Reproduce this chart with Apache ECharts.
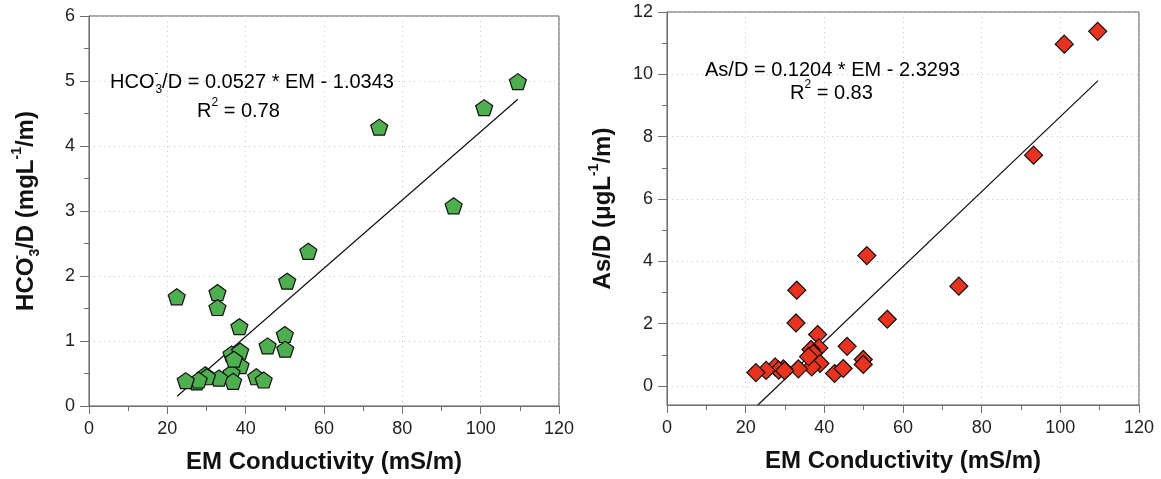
<!DOCTYPE html>
<html>
<head>
<meta charset="utf-8">
<script src="https://cdn.jsdelivr.net/npm/echarts@6/dist/echarts.min.js"></script>
<style>
html,body{margin:0;padding:0;background:#fff;}
#chart{width:1161px;height:479px;}
</style>
</head>
<body>
<div id="chart"></div>
<script>
// ---- data ----
const xTicks = [0, 20, 40, 60, 80, 100, 120];
const yTicksLeft = [0, 1, 2, 3, 4, 5, 6];
const yTicksRight = [0, 2, 4, 6, 8, 10, 12];

// Left panel: EM conductivity (mS/m) vs HCO3-/D
const emLeft  = [22.4, 32.8, 32.8, 38.4, 50.6, 56.0, 74.1, 100.9, 109.5, 93.1, 50.0, 50.1, 45.6, 36.4, 38.6, 38.7, 36.4, 36.8, 33.2, 29.7, 30.1, 27.5, 28.0, 24.7, 42.7, 44.6, 37.0];
const hco3D   = [1.68, 1.745, 1.515, 1.22, 1.92, 2.38, 4.29, 4.59, 4.99, 3.08, 1.10, 0.875, 0.925, 0.80, 0.845, 0.62, 0.51, 0.38, 0.43, 0.48, 0.45, 0.37, 0.40, 0.39, 0.45, 0.40, 0.72];
const fitLeftX = [22.5, 109.5];
const fitLeftY = [0.15, 4.72];

// Right panel: EM conductivity (mS/m) vs As/D
const emRight = [33.0, 32.8, 38.3, 56.0, 45.8, 38.6, 36.6, 36.4, 37.2, 38.9, 36.8, 33.4, 29.6, 27.5, 28.4, 25.2, 22.6, 29.9, 42.6, 44.8, 49.9, 49.9, 50.8, 74.2, 93.2, 101.0, 109.5, 36.0];
const asD     = [3.08, 2.03, 1.66, 2.15, 1.28, 1.23, 1.18, 0.94, 1.05, 0.73, 0.62, 0.56, 0.56, 0.62, 0.52, 0.51, 0.44, 0.50, 0.41, 0.57, 0.86, 0.70, 4.19, 3.21, 7.41, 10.97, 11.38, 0.95];
const fitRightX = [23.1, 109.6];
const fitRightY = [-0.6, 9.8];

// ---- chart ----
const FONT = "'Liberation Sans', Arial, Helvetica, sans-serif";
const AX = '#707070';
const zip = (a, b) => a.map((v, i) => [v, b[i]]);
const pentagon = 'path://M50,0L97.6,34.5L79.4,90.5L20.6,90.5L2.4,34.5Z';

const richName = {
  b:  { fontFamily: FONT, fontSize: 24, fontWeight: 'bold', color: '#111', lineHeight: 32 },
  sp: { fontFamily: FONT, fontSize: 14, fontWeight: 'bold', color: '#111', verticalAlign: 'top', lineHeight: 14 },
  sb: { fontFamily: FONT, fontSize: 14, fontWeight: 'bold', color: '#111', verticalAlign: 'bottom', lineHeight: 14 },
  st: { fontFamily: FONT, fontSize: 14, fontWeight: 'bold', color: '#111', verticalAlign: 'top', lineHeight: 14, width: 1 }
};
const richText = {
  n:  { fontFamily: FONT, fontSize: 20, color: '#111', lineHeight: 28 },
  sp: { fontFamily: FONT, fontSize: 12, color: '#111', verticalAlign: 'top', lineHeight: 12 },
  sb: { fontFamily: FONT, fontSize: 12, color: '#111', verticalAlign: 'bottom', lineHeight: 12 },
  st: { fontFamily: FONT, fontSize: 12, color: '#111', verticalAlign: 'top', lineHeight: 12, width: 1 }
};

function xAxisCfg(gi) {
  return {
    type: 'value', gridIndex: gi, min: xTicks[0], max: xTicks[xTicks.length - 1], interval: xTicks[1] - xTicks[0],
    axisLine: { show: true, onZero: false, lineStyle: { color: AX, width: 1 } },
    axisTick: { show: true, inside: false, length: 8, lineStyle: { color: AX } },
    minorTick: { show: true, splitNumber: 2, length: 5, lineStyle: { color: AX } },
    axisLabel: { fontFamily: FONT, fontSize: 18, color: '#222', margin: 14 },
    splitLine: { show: true, lineStyle: { type: [1, 4], color: '#c8c8c8' } },
    name: 'EM Conductivity (mS/m)', nameLocation: 'middle', nameGap: 44,
    nameTextStyle: { fontFamily: FONT, fontSize: 24, fontWeight: 'bold', color: '#111' }
  };
}

const option = {
  animation: false,
  backgroundColor: '#fff',
  grid: [
    { left: 89, top: 16, width: 470, height: 392, show: true, borderColor: '#555', borderWidth: 1, backgroundColor: 'transparent' },
    { left: 667, top: 12, width: 472, height: 393, show: true, borderColor: '#555', borderWidth: 1, backgroundColor: 'transparent' },
    { left: 667, top: 12, width: 472, height: 374, show: false }
  ],
  xAxis: [
    xAxisCfg(0),
    xAxisCfg(1),
    { type: 'value', gridIndex: 2, min: 0, max: 120, show: false }
  ],
  yAxis: [
    {
      type: 'value', gridIndex: 0, min: yTicksLeft[0], max: yTicksLeft[yTicksLeft.length - 1], interval: 1,
      axisLine: { show: true, onZero: false, lineStyle: { color: AX } },
      axisTick: { show: true, length: 9, lineStyle: { color: AX } },
      minorTick: { show: true, splitNumber: 2, length: 5, lineStyle: { color: AX } },
      axisLabel: { fontFamily: FONT, fontSize: 18, color: '#222', margin: 14 },
      splitLine: { show: true, lineStyle: { type: [1, 4], color: '#c8c8c8' } },
      name: '{b|HCO}{st|-}{sb|3}{b|/D (mgL}{sp|-1}{b|/m)}', nameLocation: 'middle', nameGap: 47,
      nameTextStyle: { fontFamily: FONT, fontSize: 24, fontWeight: 'bold', color: '#111', rich: richName }
    },
    {
      type: 'value', gridIndex: 1, min: -0.6, max: 12,
      axisLine: { show: true, onZero: false, lineStyle: { color: AX } },
      axisTick: { show: false }, minorTick: { show: false }, axisLabel: { show: false }, splitLine: { show: false },
      name: '{b|As/D (μgL}{sp|-1}{b|/m)}', nameLocation: 'middle', nameGap: 48,
      nameTextStyle: { fontFamily: FONT, fontSize: 24, fontWeight: 'bold', color: '#111', rich: richName }
    },
    {
      type: 'value', gridIndex: 2, min: yTicksRight[0], max: yTicksRight[yTicksRight.length - 1], interval: 2,
      axisLine: { show: false },
      axisTick: { show: true, length: 9, lineStyle: { color: AX } },
      minorTick: { show: true, splitNumber: 2, length: 5, lineStyle: { color: AX } },
      axisLabel: { fontFamily: FONT, fontSize: 18, color: '#222', margin: 14 },
      splitLine: { show: true, lineStyle: { type: [1, 4], color: '#c8c8c8' } }
    }
  ],
  series: [
    {
      type: 'line', xAxisIndex: 0, yAxisIndex: 0, data: zip(fitLeftX, fitLeftY),
      showSymbol: false, symbol: 'none', lineStyle: { color: '#111', width: 1.2 }, z: 3
    },
    {
      type: 'scatter', xAxisIndex: 0, yAxisIndex: 0, data: zip(emLeft, hco3D),
      symbol: pentagon, symbolSize: [17, 16],
      itemStyle: { color: '#4fae4f', borderColor: '#111', borderWidth: 1.2, opacity: 1 }, z: 4
    },
    {
      type: 'line', xAxisIndex: 1, yAxisIndex: 1, data: zip(fitRightX, fitRightY),
      showSymbol: false, symbol: 'none', lineStyle: { color: '#111', width: 1.2 }, z: 3
    },
    {
      type: 'scatter', xAxisIndex: 1, yAxisIndex: 1, data: zip(emRight, asD),
      symbol: 'diamond', symbolSize: [18, 18],
      itemStyle: { color: '#e8331f', borderColor: '#111', borderWidth: 1.2, opacity: 1 }, z: 4
    }
  ],
  graphic: [
    { type: 'text', x: 110, y: 82, z: 10, style: { text: '{n|HCO}{st|-}{sb|3}{n|/D = 0.0527 * EM - 1.0343}', rich: richText, verticalAlign: 'middle', align: 'left' } },
    { type: 'text', x: 197, y: 111, z: 10, style: { text: '{n|R}{sp|2}{n| = 0.78}', rich: richText, verticalAlign: 'middle', align: 'left' } },
    { type: 'text', x: 705, y: 70, z: 10, style: { text: '{n|As/D = 0.1204 * EM - 2.3293}', rich: richText, verticalAlign: 'middle', align: 'left' } },
    { type: 'text', x: 790, y: 93, z: 10, style: { text: '{n|R}{sp|2}{n| = 0.83}', rich: richText, verticalAlign: 'middle', align: 'left' } }
  ]
};

const chart = echarts.init(document.getElementById('chart'), null, { renderer: 'canvas' });
chart.setOption(option);
</script>
</body>
</html>
